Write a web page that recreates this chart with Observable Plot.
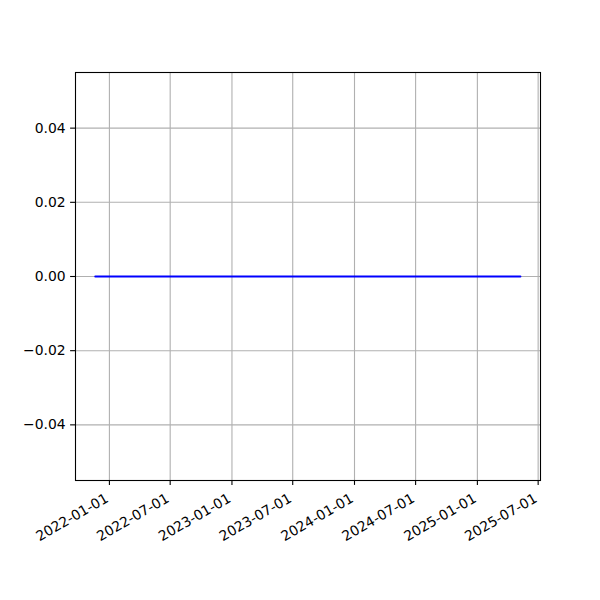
<!DOCTYPE html>
<html>
<head>
<meta charset="utf-8">
<script src="https://cdn.jsdelivr.net/npm/d3@7"></script>
<script src="https://cdn.jsdelivr.net/npm/@observablehq/plot@0.6"></script>
<style>
  html, body { margin: 0; padding: 0; background: #fff; }
  #chart { width: 600px; height: 600px; }
  svg { font-family: "DejaVu Sans", sans-serif; }
</style>
</head>
<body>
<div id="chart"></div>
<script>
// Data
const dates = ["2021-11-20", "2025-05-09"];
const values = [0, 0];
const xTickLabels = ["2022-01-01", "2022-07-01", "2023-01-01", "2023-07-01", "2024-01-01", "2024-07-01", "2025-01-01", "2025-07-01"];
const yTicks = [-0.04, -0.02, 0.00, 0.02, 0.04];
const xDomain = ["2021-09-22", "2025-07-08"];
const yDomain = [-0.055, 0.055];

const parse = d3.utcParse("%Y-%m-%d");
const data = dates.map((d, i) => ({date: parse(d), value: values[i]}));
const xTicks = xTickLabels.map(parse);

const chart = Plot.plot({
  width: 600,
  height: 600,
  marginLeft: 75,
  marginRight: 60,
  marginTop: 72,
  marginBottom: 120,
  style: {fontFamily: "DejaVu Sans, sans-serif", fontSize: "13.9px", color: "#000", background: "#fff"},
  x: {type: "utc", domain: xDomain.map(parse)},
  y: {domain: yDomain},
  marks: [
    Plot.gridX(xTicks, {stroke: "#b0b0b0", strokeOpacity: 1, strokeWidth: 1.1}),
    Plot.gridY(yTicks, {stroke: "#b0b0b0", strokeOpacity: 1, strokeWidth: 1.1}),
    Plot.line(data, {x: "date", y: "value", stroke: "#0000ff", strokeWidth: 2.1}),
    Plot.frame({stroke: "#000", strokeWidth: 1.1}),
    Plot.axisY({ticks: yTicks, tickFormat: d3.format(".2f"), tickSize: 4.9, tickPadding: 4.9, stroke: "#000", strokeWidth: 1.1, label: null, fontSize: "13.9px"}),
    Plot.axisX({ticks: xTicks, tickFormat: () => "", tickSize: 4.9, stroke: "#000", strokeWidth: 1.1, label: null}),
    Plot.text(xTicks, {x: d => d, text: d => d3.utcFormat("%Y-%m-%d")(d), frameAnchor: "bottom", dy: 12, dx: -5, rotate: -30, textAnchor: "end", lineAnchor: "top", fontSize: 13.9, fill: "#000"})
  ]
});
document.getElementById("chart").appendChild(chart);
</script>
</body>
</html>
